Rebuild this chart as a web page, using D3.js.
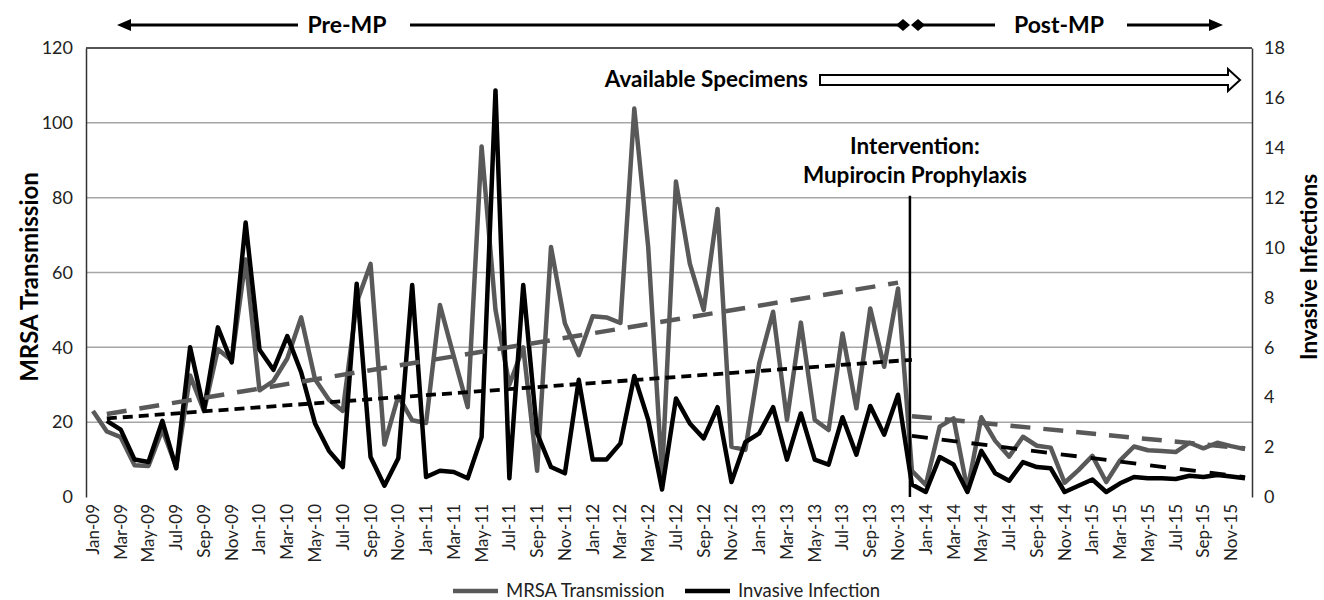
<!DOCTYPE html>
<html>
<head>
<meta charset="utf-8">
<script src="https://cdn.jsdelivr.net/npm/d3@7"></script>
<style>
  body { margin: 0; background: #fff; }
  svg { font-family: Lato, "Open Sans", sans-serif; }
</style>
</head>
<body>
<svg id="chart" width="1324" height="600"></svg>
<script>
// monthly categories Jan-09 .. Dec-15
const months = d3.timeMonths(new Date(2009, 0, 1), new Date(2016, 0, 1)).map(d3.timeFormat("%b-%y"));

// MRSA transmission (left axis)
const mrsaTransmission = [
  23, 17.5, 16, 8.5, 8.3, 18, 8, 32.5, 23, 39.5, 36.5, 63.5,
  28.5, 31, 37, 48, 31.5, 26, 23, 52, 62.3, 14, 27, 20.5,
  19.8, 51.3, 37.5, 24, 93.7, 50, 30, 40, 7, 66.8, 46.4, 37.9,
  48.3, 48, 46.5, 103.8, 66.9, 6, 84.3, 62.4, 50, 77, 13.4, 12.6,
  35.7, 49.5, 20.6, 46.6, 20.6, 17.9, 43.7, 23.7, 50.4, 34.8, 55.7, 7,
  3.2, 18.8, 21, 1.9, 21.3, 15, 10.8, 16.1, 13.7, 13.2, 3.8, 7.2,
  11, 4, 9.8, 13.5, 12.5, 12.3, 12, 14.5, 13, 14.5, 13.6, 12.8
];

// invasive infections (right axis), no value for Jan-09
const invasiveInfection = [
  null, 3.05, 2.7, 1.5, 1.4, 3.05, 1.15, 6.0, 3.5, 6.8, 5.4, 11.0,
  5.9, 5.1, 6.45, 5.0, 2.95, 1.85, 1.2, 8.55, 1.6, 0.45, 1.55, 8.5,
  0.8, 1.05, 1.0, 0.75, 2.4, 16.3, 0.75, 8.5, 2.55, 1.2, 0.95, 4.7,
  1.5, 1.5, 2.15, 4.85, 3.1, 0.3, 3.95, 2.95, 2.35, 3.6, 0.6, 2.2,
  2.55, 3.6, 1.5, 3.35, 1.5, 1.3, 3.2, 1.7, 3.65, 2.5, 4.1, 0.5,
  0.2, 1.6, 1.3, 0.2, 1.85, 0.95, 0.65, 1.4, 1.2, 1.15, 0.2, 0.45,
  0.7, 0.2, 0.55, 0.8, 0.75, 0.75, 0.72, 0.85, 0.8, 0.88, 0.82, 0.75
];

// trend lines (start / end month and value)
const mrsaTrendPre = [{ month: "Feb-09", value: 22.2 }, { month: "Nov-13", value: 57.3 }];
const mrsaTrendPost = [{ month: "Dec-13", value: 21.6 }, { month: "Dec-15", value: 13 }];
const invasiveTrendPre = [{ month: "Feb-09", value: 3.15 }, { month: "Dec-13", value: 5.5 }];
const invasiveTrendPost = [{ month: "Dec-13", value: 2.45 }, { month: "Dec-15", value: 0.8 }];

const leftTicks = [0, 20, 40, 60, 80, 100, 120];
const rightTicks = [0, 2, 4, 6, 8, 10, 12, 14, 16, 18];
const interventionMonth = "Dec-13";

const svg = d3.select("#chart");
const plotLeft = 86, plotRight = 1252, plotTop = 48, plotBottom = 497;

const x = d3.scaleBand().domain(months).range([plotLeft, plotRight]);
const cx = m => x(m) + x.bandwidth() / 2;
const yL = d3.scaleLinear().domain([0, 120]).range([plotBottom, plotTop]);
const yR = d3.scaleLinear().domain([0, 18]).range([plotBottom, plotTop]);

// gridlines
svg.append("g")
  .selectAll("line")
  .data(leftTicks.filter(t => t > 0))
  .join("line")
  .attr("x1", plotLeft).attr("x2", plotRight)
  .attr("y1", d => yL(d)).attr("y2", d => yL(d))
  .attr("stroke", "#a6a6a6").attr("stroke-width", 1.5);

// frame top
svg.append("line")
  .attr("x1", plotLeft).attr("x2", plotRight).attr("y1", plotTop).attr("y2", plotTop)
  .attr("stroke", "#333").attr("stroke-width", 1.5);

// left axis
const axL = svg.append("g")
  .attr("transform", `translate(${plotLeft},0)`)
  .call(d3.axisLeft(yL).tickValues(leftTicks).tickSize(0).tickPadding(13));
axL.select(".domain").attr("stroke", "#333").attr("stroke-width", 1.5);
axL.selectAll("text").style("font-size", "18px").attr("fill", "#222").style("font-family", "Lato");

// right axis
const axR = svg.append("g")
  .attr("transform", `translate(${plotRight},0)`)
  .call(d3.axisRight(yR).tickValues(rightTicks).tickSize(0).tickPadding(12));
axR.select(".domain").attr("stroke", "#333").attr("stroke-width", 1.5);
axR.selectAll("text").style("font-size", "18px").attr("fill", "#222").style("font-family", "Lato");

// bottom axis, every other month
const axB = svg.append("g")
  .attr("transform", `translate(0,${plotBottom})`)
  .call(d3.axisBottom(x).tickValues(months.filter((d, i) => i % 2 === 0)).tickSize(0));
axB.select(".domain").remove();
axB.selectAll("text")
  .attr("transform", "rotate(-90)")
  .attr("text-anchor", "end")
  .attr("x", -7).attr("y", 0).attr("dy", "0.35em")
  .style("font-size", "17px").attr("fill", "#222").style("font-family", "Lato");

// data lines
const lineL = d3.line().defined(d => d.v != null).x(d => cx(d.m)).y(d => yL(d.v));
const lineR = d3.line().defined(d => d.v != null).x(d => cx(d.m)).y(d => yR(d.v));

svg.append("path")
  .datum(months.map((m, i) => ({ m, v: mrsaTransmission[i] })))
  .attr("d", lineL)
  .attr("fill", "none").attr("stroke", "#595959").attr("stroke-width", 4.5)
  .attr("stroke-linejoin", "round");

svg.append("path")
  .datum(months.map((m, i) => ({ m, v: invasiveInfection[i] })))
  .attr("d", lineR)
  .attr("fill", "none").attr("stroke", "#000").attr("stroke-width", 4.5)
  .attr("stroke-linejoin", "round");

// trend lines
const trend = (data, y, color, width, dash) => {
  svg.append("path")
    .datum(data)
    .attr("d", d3.line().x(d => cx(d.month)).y(d => y(d.value)))
    .attr("fill", "none").attr("stroke", color)
    .attr("stroke-width", width).attr("stroke-dasharray", dash);
};
trend(mrsaTrendPre, yL, "#595959", 4.5, "20,13");
trend(mrsaTrendPost, yL, "#595959", 4.5, "20,13");
trend(invasiveTrendPre, yR, "#000", 3.8, "10,6");
trend(invasiveTrendPost, yR, "#000", 3.8, "16,14");

// intervention line and label
const ix = cx(interventionMonth) - 2;
svg.append("line")
  .attr("x1", ix).attr("x2", ix)
  .attr("y1", plotBottom).attr("y2", yL(80.5))
  .attr("stroke", "#000").attr("stroke-width", 2.5);

svg.append("text")
  .attr("x", ix + 5).attr("y", 154)
  .attr("text-anchor", "middle")
  .style("font-size", "22.5px").style("font-weight", "bold")
  .text("Intervention:");
svg.append("text")
  .attr("x", ix + 5).attr("y", 183)
  .attr("text-anchor", "middle")
  .style("font-size", "22.5px").style("font-weight", "bold")
  .text("Mupirocin Prophylaxis");

// available specimens block arrow
svg.append("text")
  .attr("x", 808).attr("y", 87)
  .attr("text-anchor", "end")
  .style("font-size", "22.5px").style("font-weight", "bold")
  .text("Available Specimens");
svg.append("path")
  .attr("d", "M820,75 H1228 V69 L1240,80 L1228,91 V85 H820 Z")
  .attr("fill", "#fff").attr("stroke", "#000").attr("stroke-width", 2);

// Pre-MP / Post-MP arrows
const ay = 25;
const topArrows = svg.append("g").attr("stroke", "#000").attr("stroke-width", 3);
topArrows.append("line").attr("x1", 128).attr("x2", 298).attr("y1", ay).attr("y2", ay);
topArrows.append("line").attr("x1", 410).attr("x2", 900).attr("y1", ay).attr("y2", ay);
topArrows.append("line").attr("x1", 920).attr("x2", 995).attr("y1", ay).attr("y2", ay);
topArrows.append("line").attr("x1", 1127).attr("x2", 1212).attr("y1", ay).attr("y2", ay);
svg.append("path").attr("d", `M117,${ay} L131,${ay - 6} L131,${ay + 6} Z`);
svg.append("path").attr("d", `M1223,${ay} L1209,${ay - 6} L1209,${ay + 6} Z`);
svg.append("path").attr("d", `M896,${ay} L903,${ay - 6} L910,${ay} L903,${ay + 6} Z`);
svg.append("path").attr("d", `M911,${ay} L918,${ay - 6} L925,${ay} L918,${ay + 6} Z`);

svg.append("text")
  .attr("x", 347).attr("y", 33).attr("text-anchor", "middle")
  .style("font-size", "23px").style("font-weight", "bold")
  .text("Pre-MP");
svg.append("text")
  .attr("x", 1059).attr("y", 33).attr("text-anchor", "middle")
  .style("font-size", "23px").style("font-weight", "bold")
  .text("Post-MP");

// axis titles
svg.append("text")
  .attr("transform", "translate(30,277) rotate(-90)")
  .attr("text-anchor", "middle").attr("dy", "0.35em")
  .style("font-size", "24px").style("font-weight", "bold")
  .text("MRSA Transmission");
svg.append("text")
  .attr("transform", "translate(1309,267) rotate(-90)")
  .attr("text-anchor", "middle").attr("dy", "0.35em")
  .style("font-size", "22.5px").style("font-weight", "bold")
  .text("Invasive Infections");

// legend
const legend = [
  { name: "MRSA Transmission", color: "#595959", x: 453 },
  { name: "Invasive Infection", color: "#000", x: 685 }
];
const lg = svg.append("g").selectAll("g").data(legend).join("g")
  .attr("transform", d => `translate(${d.x},591)`);
lg.append("line").attr("x1", 0).attr("x2", 45)
  .attr("stroke", d => d.color).attr("stroke-width", 4.5);
lg.append("text").attr("x", 53).attr("dy", "0.35em")
  .style("font-size", "18.5px").attr("fill", "#222")
  .text(d => d.name);
</script>
</body>
</html>
